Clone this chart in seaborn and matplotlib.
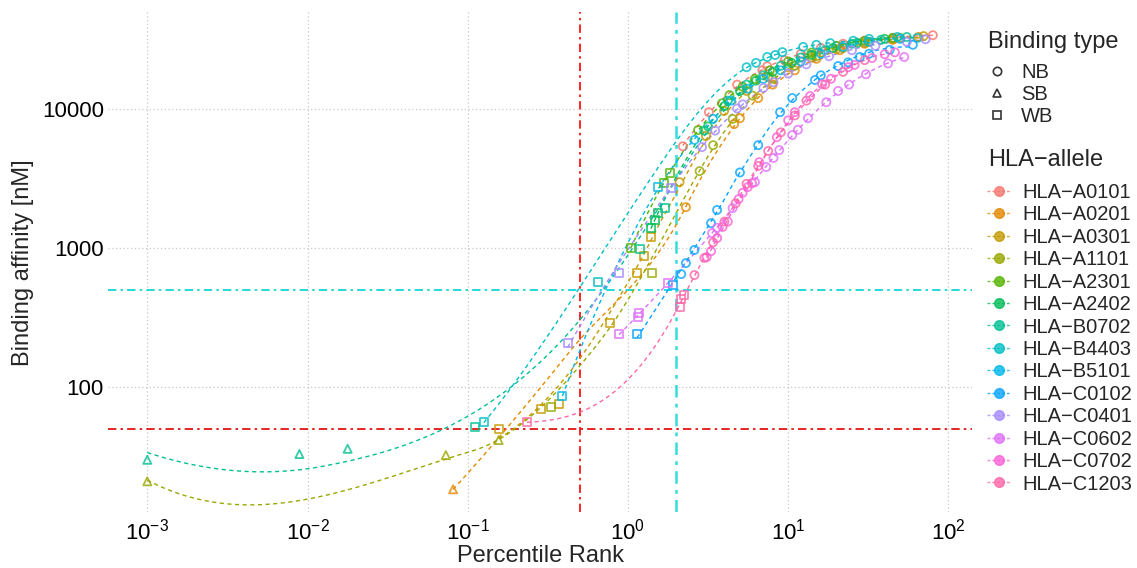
import numpy as np
import pandas as pd
import matplotlib
matplotlib.use("Agg")
import matplotlib.pyplot as plt
import seaborn as sns
from matplotlib.lines import Line2D
from matplotlib.ticker import NullLocator

# percentile rank / binding affinity (nM) per allele
a0101_rank = [2.2, 3.2, 4.8, 6.9, 7.4, 9.5, 12, 16, 22, 30, 45, 80]
a0101_aff = [5400, 9500, 15000, 19000, 20300, 22500, 25000, 27500, 29500, 31000, 32500, 34000]

a0201_rank = [0.081, 2.3, 4.6, 5.0, 6.5, 8, 11, 15, 21, 30, 45, 65]
a0201_aff = [18.4, 1970, 7800, 8600, 12000, 15000, 19000, 23000, 26500, 29500, 31500, 33000]

a0301_rank = [0.156, 0.286, 0.37, 0.77, 1.14, 1.26, 1.4, 2.1, 3.07, 3.98, 5.5, 7.5, 10, 14, 20, 30, 45, 70]
a0301_aff = [50, 70, 76, 289, 660, 875, 1200, 2980, 6400, 9700, 13500, 17000, 20000, 23500, 27000, 30000, 32000, 33500]

a1101_rank = [0.001, 0.073, 0.156, 0.33, 1.41, 2.8, 3.4, 4.5, 6, 8, 11, 15, 22, 32, 50]
a1101_aff = [21, 32.4, 41.6, 72, 660, 3580, 5500, 8500, 12500, 16500, 20500, 24000, 27500, 30500, 32500]

a2301_rank = [1.04, 1.68, 1.83, 2.74, 3.86, 4.3, 5.2, 6.2, 7.7, 10, 14, 20, 30, 45]
a2301_aff = [1000, 2936, 3467, 7070, 11000, 12600, 14500, 16500, 19000, 22000, 25500, 28500, 31000, 32500]

a2402_rank = [1.39, 1.47, 1.55, 3.16, 4.0, 5.0, 6.3, 8, 10.5, 14, 19, 27, 40]
a2402_aff = [1390, 1590, 1800, 7500, 10500, 13500, 16000, 18500, 21500, 24500, 27500, 30000, 32000]

b0702_rank = [0.001, 0.0089, 0.0178, 0.111, 1.19, 1.7, 3.0, 4.2, 5.5, 7, 9, 12, 17, 25, 38, 55]
b0702_aff = [30, 33, 36, 52, 985, 1940, 7000, 11500, 15000, 17500, 20500, 23500, 26500, 29500, 31500, 33000]

b4403_rank = [0.126, 0.65, 5.5, 6.3, 7.4, 8.3, 9.2, 12.4, 15, 18.3, 25.5, 32, 48, 64]
b4403_aff = [56, 570, 20000, 21500, 23700, 24500, 25700, 28000, 29000, 29800, 31000, 32000, 33000, 32500]

b5101_rank = [0.39, 1.54, 2.6, 3.4, 4.4, 5.6, 7, 9, 12, 16, 22, 32, 50]
b5101_aff = [86, 2750, 6000, 8500, 11500, 14000, 16500, 19000, 22000, 25000, 28000, 30500, 32000]

c0102_rank = [1.14, 1.91, 2.15, 2.3, 2.6, 3.3, 3.6, 5, 6.5, 8.9, 10.6, 14.7, 16, 20.5, 23.7, 28, 32, 43, 60]
c0102_aff = [240, 540, 650, 780, 970, 1510, 1880, 3500, 5500, 9500, 12000, 16200, 17500, 20400, 21700, 23700, 25000, 26700, 29000]

c0401_rank = [0.42, 0.88, 1.86, 2.9, 3.5, 4.8, 5.2, 7, 8.1, 10, 13, 18, 25, 35, 55, 72]
c0401_aff = [207, 660, 2700, 5330, 7000, 10100, 10800, 14200, 15600, 18000, 21000, 24000, 26500, 28500, 30500, 31800]

c0602_rank = [0.88, 1.15, 1.17, 1.78, 3.35, 3.6, 4.5, 6.2, 7.3, 8.1, 8.8, 10.6, 11.5, 13.3, 17.3, 20.5, 24, 30.6, 42, 53]
c0602_aff = [240, 320, 340, 560, 1280, 1400, 1940, 2980, 3830, 4450, 5070, 6500, 7100, 8600, 11200, 13500, 15000, 17800, 21300, 23700]

c0702_rank = [3.1, 3.3, 3.6, 3.9, 4.2, 4.9, 5.2, 5.6, 5.95, 6.6, 8.5, 10, 11, 13.7, 16.3, 18.5, 23.7, 26, 33.4, 40, 46.4]
c0702_aff = [860, 950, 1180, 1420, 1550, 2250, 2500, 2750, 2930, 4150, 6280, 8300, 9500, 12400, 15100, 16500, 20000, 20800, 23300, 24800, 25600]

c1203_rank = [0.234, 2.1, 2.15, 2.25, 2.6, 3.0, 3.4, 4.0, 4.7, 5.5, 6.5, 7.5, 9, 11, 13, 17, 22, 30]
c1203_aff = [56, 377, 430, 460, 640, 850, 1100, 1550, 2100, 2900, 3900, 5000, 6800, 9000, 11500, 15000, 18500, 22500]

alleles = ["HLA-A0101", "HLA-A0201", "HLA-A0301", "HLA-A1101", "HLA-A2301", "HLA-A2402", "HLA-B0702",
           "HLA-B4403", "HLA-B5101", "HLA-C0102", "HLA-C0401", "HLA-C0602", "HLA-C0702", "HLA-C1203"]
ranks = [a0101_rank, a0201_rank, a0301_rank, a1101_rank, a2301_rank, a2402_rank, b0702_rank,
         b4403_rank, b5101_rank, c0102_rank, c0401_rank, c0602_rank, c0702_rank, c1203_rank]
affs = [a0101_aff, a0201_aff, a0301_aff, a1101_aff, a2301_aff, a2402_aff, b0702_aff,
        b4403_aff, b5101_aff, c0102_aff, c0401_aff, c0602_aff, c0702_aff, c1203_aff]
binding_types = ["NB", "SB", "WB"]


def binding_type(r, a):
    if r < 0.5 and a < 50:
        return "SB"
    if r < 2 or a < 500:
        return "WB"
    return "NB"


def hcl_hex(h, c=100, l=65):
    # same as R's hcl(), ggplot default hue palette
    hr = np.deg2rad(h)
    U, V = c * np.cos(hr), c * np.sin(hr)
    Xn, Yn, Zn = 95.047, 100.0, 108.883
    un = 4 * Xn / (Xn + 15 * Yn + 3 * Zn)
    vn = 9 * Yn / (Xn + 15 * Yn + 3 * Zn)
    Y = Yn * ((l + 16) / 116) ** 3
    u = U / (13 * l) + un
    v = V / (13 * l) + vn
    X = 9 * Y * u / (4 * v)
    Z = -X / 3 - 5 * Y + 3 * Y / v
    M = np.array([[3.240479, -1.537150, -0.498535],
                  [-0.969256, 1.875992, 0.041556],
                  [0.055648, -0.204043, 1.057311]])
    rgb = M @ np.array([X, Y, Z]) / 100
    rgb = np.where(rgb > 0.0031308, 1.055 * np.abs(rgb) ** (1 / 2.4) - 0.055, 12.92 * rgb)
    return tuple(np.clip(rgb, 0, 1))


def local_fit(x, y, x0, q):
    d = np.abs(x - x0)
    h = np.sort(d)[q - 1] * 1.0001
    w = np.clip(1 - (d / h) ** 3, 0, None) ** 3
    c2, c1, c0 = np.polyfit(x - x0, y, 2, w=np.sqrt(w))
    return c0, c1


def loess(x, y, span=0.75, n_out=120):
    # R-style loess: local quadratic at kd-tree vertices, cubic hermite in between
    x, y = np.asarray(x, float), np.asarray(y, float)
    q = int(np.floor(len(x) * span))
    fc = max(int(np.floor(len(x) * span * 0.2)), 1)
    verts = {x.min(), x.max()}

    def split(pts):
        if len(pts) <= fc or len(np.unique(pts)) < 2:
            return
        m = np.median(pts)
        if m >= pts.max():
            m = (np.unique(pts)[-2] + pts.max()) / 2
        verts.add(m)
        split(pts[pts <= m])
        split(pts[pts > m])

    split(np.sort(x))
    vx = np.array(sorted(verts))
    vals = np.array([local_fit(x, y, v, q) for v in vx])
    grid = np.linspace(x.min(), x.max(), n_out)
    out = []
    for g in grid:
        i = min(np.searchsorted(vx, g, side="right") - 1, len(vx) - 2)
        x0, x1 = vx[i], vx[i + 1]
        hh = x1 - x0
        t = (g - x0) / hh
        y0, m0 = vals[i]
        y1, m1 = vals[i + 1]
        out.append((2 * t**3 - 3 * t**2 + 1) * y0 + (t**3 - 2 * t**2 + t) * hh * m0
                   + (-2 * t**3 + 3 * t**2) * y1 + (t**3 - t**2) * hh * m1)
    return grid, np.array(out)


hues = np.linspace(15, 375, len(alleles) + 1)[:-1]
colors = [hcl_hex(h) for h in hues]

rows = []
fits = []
for name, r, a in zip(alleles, ranks, affs):
    for ri, ai in zip(r, a):
        rows.append([name, ri, ai, binding_type(ri, ai)])
    gx, gy = loess(np.log10(r), np.log10(a))
    fits.append(pd.DataFrame({"allele": name, "rank": 10 ** gx, "aff": 10 ** gy}))
pts = pd.DataFrame(rows, columns=["allele", "rank", "aff", "type"])
fit = pd.concat(fits)

sns.set_theme(style="white")
plt.rcParams["font.family"] = ["Liberation Sans", "DejaVu Sans"]
plt.rcParams["mathtext.fontset"] = "custom"
plt.rcParams["mathtext.rm"] = "Liberation Sans"
plt.rcParams["mathtext.it"] = "Liberation Sans:italic"
plt.rcParams["mathtext.bf"] = "Liberation Sans:bold"

fig, ax = plt.subplots(figsize=(11.37, 5.68), dpi=100)
fig.subplots_adjust(left=0.095, right=0.855, top=0.978, bottom=0.0986)
ax.set_xscale("log")
ax.set_yscale("log")

sns.lineplot(data=fit, x="rank", y="aff", hue="allele", hue_order=alleles, palette=colors,
             estimator=None, legend=False, lw=1.0, linestyle=(0, (3, 2.5)), ax=ax, zorder=2)

sns.scatterplot(data=pts, x="rank", y="aff", hue="allele", hue_order=alleles, palette=colors,
                style="type", style_order=binding_types, markers={"NB": "o", "SB": "^", "WB": "s"},
                s=34, alpha=0.8, legend=False, ax=ax, zorder=3)
coll = ax.collections[-1]
fc = coll.get_facecolors()
coll.set_edgecolors(fc)
coll.set_facecolors("none")
coll.set_linewidths(1.3)

# threshold lines
dotdash = (0, (5, 2.5, 1.5, 2.5))
ax.axvline(0.5, color="red", ls=dotdash, lw=1.2, zorder=1)
ax.axvline(2, color="#33DDDD", ls=dotdash, lw=1.8, zorder=1)
ax.axhline(500, color="#00D2D2", ls=dotdash, lw=1.2, zorder=1)
ax.axhline(50, color="#E00000", ls=dotdash, lw=1.2, zorder=1)

lx = np.log10(pts["rank"])
ly = np.log10(pts["aff"])
ex = (lx.max() - lx.min()) * 0.05
ey = (ly.max() - ly.min()) * 0.05
ax.set_xlim(10 ** (lx.min() - ex), 10 ** (lx.max() + ex))
ax.set_ylim(10 ** (ly.min() - ey), 10 ** (ly.max() + ey))

ax.set_xticks([1e-3, 1e-2, 1e-1, 1e0, 1e1, 1e2])
ax.set_xticklabels([r"$10^{%d}$" % e for e in range(-3, 3)])
ax.set_yticks([100, 1000, 10000])
ax.set_yticklabels(["100", "1000", "10000"])
ax.xaxis.set_minor_locator(NullLocator())
ax.yaxis.set_minor_locator(NullLocator())
ax.grid(True, which="major", color="#C8C8C8", ls=(0, (1, 2)), lw=0.9)
for sp in ax.spines.values():
    sp.set_visible(False)
ax.tick_params(length=0, labelsize=16, colors="black")
ax.tick_params(axis="y", pad=3)
ax.tick_params(axis="x", pad=5)
ax.set_xlabel("Percentile Rank", fontsize=17, labelpad=0)
ax.set_ylabel("Binding affinity [nM]", fontsize=17, labelpad=6)

# legends: titles as text, entries as legends without frame
fig.text(988 / 1137, 1 - 42 / 568, "Binding type", fontsize=17, va="center", ha="left")
fig.text(988 / 1137, 1 - 160 / 568, "HLA\u2212allele", fontsize=17, va="center", ha="left")

shape_handles = [Line2D([], [], ls="none", marker=m, mfc="none", mec="#333333", mew=1.2, ms=6)
                 for m in ["o", "^", "s"]]
leg1 = fig.legend(shape_handles, binding_types, loc="upper left",
                  bbox_to_anchor=(985 / 1137, 1 - 63 / 568), frameon=False, fontsize=14.5,
                  labelspacing=0.15, handlelength=1.2, handletextpad=0.6,
                  borderpad=0, borderaxespad=0)

allele_handles = [Line2D([], [], color=c, ls=(0, (2, 1.5)), lw=1.0, marker="o", ms=7,
                         mfc=c, mec=c, alpha=0.8) for c in colors]
labels = [a.replace("-", "\u2212") for a in alleles]
leg2 = fig.legend(allele_handles, labels, loc="upper left",
                  bbox_to_anchor=(987 / 1137, 1 - 183 / 568), frameon=False, fontsize=14.5,
                  labelspacing=0.17, handlelength=1.15, handletextpad=0.6,
                  borderpad=0, borderaxespad=0)

fig.savefig("out.png", dpi=100)
